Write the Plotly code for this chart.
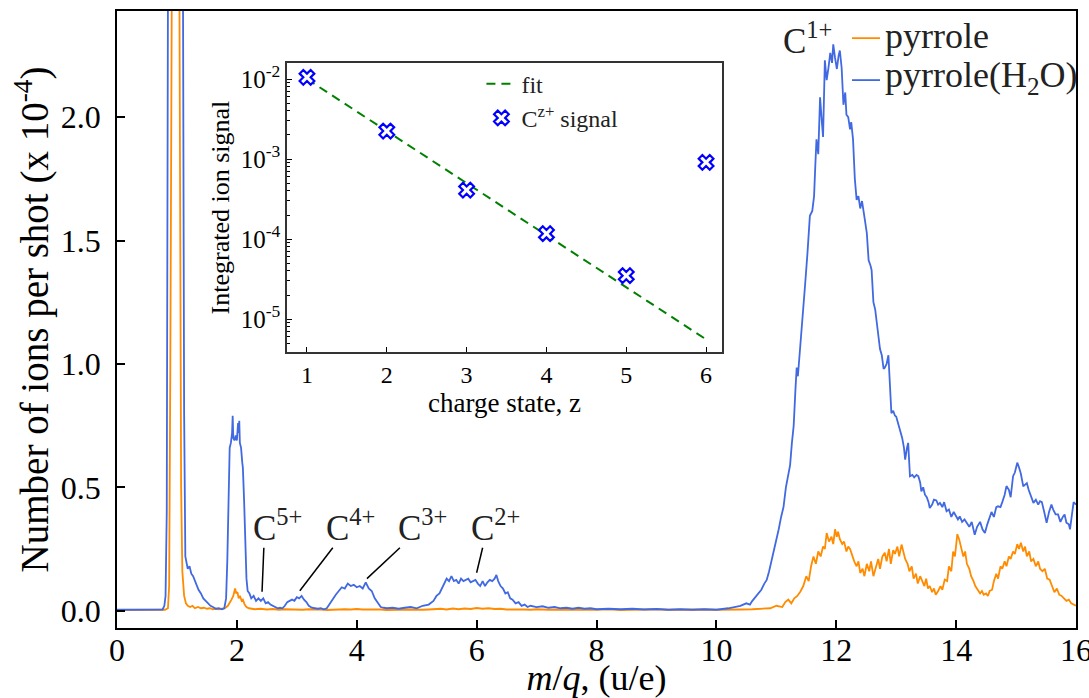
import plotly.graph_objects as go

# ---------------- main spectrum: pyrrole(H2O) (blue) ----------------
blue_mz = [
    0.00, 0.30, 0.60, 0.76, 0.79, 0.81, 0.83, 0.85, 0.90, 1.00,
    1.07, 1.10, 1.12, 1.14, 1.16, 1.18, 1.21, 1.24, 1.27, 1.30,
    1.33, 1.36, 1.40, 1.44, 1.48, 1.52, 1.56, 1.60, 1.65, 1.70,
    1.75, 1.79, 1.82, 1.84, 1.86, 1.88, 1.90, 1.92, 1.93, 1.94,
    1.96, 1.98, 2.00, 2.02, 2.03, 2.04, 2.05, 2.07, 2.09, 2.10,
    2.12, 2.14, 2.16, 2.18, 2.21, 2.24, 2.28, 2.32, 2.36, 2.40,
    2.44, 2.48, 2.52, 2.56, 2.60, 2.64, 2.68, 2.72, 2.76, 2.80,
    2.84, 2.88, 2.92, 2.96, 3.00, 3.04, 3.08, 3.12, 3.16, 3.20,
    3.25, 3.30, 3.35, 3.40, 3.45, 3.50, 3.55, 3.60, 3.65, 3.70,
    3.75, 3.80, 3.85, 3.90, 3.95, 4.00, 4.05, 4.10, 4.15, 4.20,
    4.25, 4.30, 4.35, 4.40, 4.45, 4.50, 4.60, 4.70, 4.80, 4.90,
    5.00, 5.10, 5.20, 5.28, 5.33, 5.38, 5.42, 5.46, 5.50, 5.54,
    5.58, 5.62, 5.66, 5.70, 5.74, 5.78, 5.82, 5.86, 5.90, 5.94,
    5.98, 6.02, 6.06, 6.10, 6.14, 6.18, 6.22, 6.26, 6.30, 6.33,
    6.36, 6.40, 6.44, 6.48, 6.52, 6.56, 6.60, 6.65, 6.70, 6.75,
    6.80, 6.85, 6.90, 7.00, 7.10, 7.20, 7.30, 7.40, 7.50, 7.60,
    7.70, 7.80, 7.90, 8.00, 8.20, 8.40, 8.60, 8.80, 9.00, 9.20,
    9.40, 9.60, 9.80, 10.00, 10.10, 10.20, 10.30, 10.40, 10.50, 10.56,
    10.60, 10.65, 10.70, 10.75, 10.80, 10.84, 10.88, 10.92, 10.96, 11.00,
    11.04, 11.08, 11.12, 11.16, 11.20, 11.23, 11.26, 11.29, 11.32, 11.34,
    11.36, 11.39, 11.42, 11.45, 11.48, 11.52, 11.56, 11.60, 11.63, 11.65,
    11.67, 11.70, 11.73, 11.76, 11.78, 11.81, 11.84, 11.87, 11.90, 11.93,
    11.95, 11.98, 12.01, 12.04, 12.06, 12.09, 12.12, 12.15, 12.17, 12.20,
    12.23, 12.25, 12.28, 12.31, 12.34, 12.37, 12.40, 12.43, 12.45, 12.48,
    12.51, 12.54, 12.57, 12.59, 12.62, 12.65, 12.67, 12.70, 12.73, 12.76,
    12.79, 12.81, 12.84, 12.87, 12.90, 12.92, 12.95, 12.98, 13.00, 13.03,
    13.06, 13.10, 13.13, 13.15, 13.18, 13.20, 13.23, 13.27, 13.30, 13.34,
    13.37, 13.40, 13.42, 13.45, 13.48, 13.51, 13.54, 13.56, 13.60, 13.63,
    13.67, 13.70, 13.73, 13.77, 13.80, 13.84, 13.88, 13.92, 13.96, 14.00,
    14.03, 14.06, 14.10, 14.14, 14.18, 14.22, 14.26, 14.29, 14.31, 14.35,
    14.40, 14.44, 14.48, 14.52, 14.56, 14.59, 14.63, 14.67, 14.70, 14.74,
    14.77, 14.81, 14.84, 14.88, 14.91, 14.95, 14.98, 15.02, 15.05, 15.08,
    15.12, 15.15, 15.18, 15.21, 15.25, 15.29, 15.33, 15.37, 15.40, 15.43,
    15.47, 15.51, 15.55, 15.59, 15.62, 15.66, 15.70, 15.74, 15.78, 15.81,
    15.84, 15.88, 15.90, 15.93, 15.96, 16.00,
]
blue_counts = [
    0.004, 0.004, 0.004, 0.005, 0.02, 0.06, 0.40, 2.50, 6.00, 9.00,
    6.00, 2.60, 0.80, 0.22, 0.19, 0.17, 0.18, 0.15, 0.14, 0.12,
    0.10, 0.085, 0.07, 0.05, 0.04, 0.03, 0.02, 0.015, 0.008, 0.01,
    0.006, 0.01, 0.05, 0.20, 0.45, 0.66, 0.68, 0.72, 0.79, 0.70,
    0.69, 0.71, 0.69, 0.76, 0.72, 0.77, 0.68, 0.66, 0.60, 0.58,
    0.45, 0.25, 0.13, 0.08, 0.07, 0.05, 0.06, 0.04, 0.05, 0.04,
    0.05, 0.03, 0.035, 0.025, 0.02, 0.012, 0.01, 0.012, 0.01, 0.02,
    0.035, 0.04, 0.045, 0.04, 0.055, 0.05, 0.06, 0.045, 0.035, 0.02,
    0.012, 0.01, 0.008, 0.01, 0.006, 0.01, 0.03, 0.05, 0.065, 0.08,
    0.095, 0.09, 0.11, 0.10, 0.105, 0.095, 0.10, 0.09, 0.115, 0.09,
    0.08, 0.05, 0.03, 0.015, 0.012, 0.01, 0.012, 0.008, 0.012, 0.015,
    0.01, 0.02, 0.025, 0.04, 0.06, 0.07, 0.09, 0.11, 0.13, 0.12,
    0.14, 0.12, 0.125, 0.11, 0.13, 0.12, 0.125, 0.13, 0.115, 0.12,
    0.125, 0.11, 0.10, 0.12, 0.10, 0.115, 0.125, 0.12, 0.13, 0.145,
    0.12, 0.10, 0.09, 0.07, 0.075, 0.05, 0.045, 0.03, 0.035, 0.02,
    0.025, 0.015, 0.02, 0.015, 0.018, 0.012, 0.015, 0.01, 0.012, 0.008,
    0.012, 0.008, 0.01, 0.006, 0.008, 0.006, 0.008, 0.005, 0.007, 0.004,
    0.006, 0.004, 0.006, 0.004, 0.006, 0.01, 0.015, 0.02, 0.03, 0.025,
    0.04, 0.055, 0.07, 0.085, 0.11, 0.125, 0.16, 0.20, 0.25, 0.29,
    0.33, 0.38, 0.42, 0.50, 0.55, 0.59, 0.68, 0.75, 0.90, 0.985,
    0.95, 1.05, 1.13, 1.26, 1.32, 1.45, 1.60, 1.62, 1.68, 1.80,
    1.91, 1.85, 2.08, 1.98, 1.92, 2.23, 2.15, 2.20, 2.26, 2.22,
    2.295, 2.24, 2.195, 2.25, 2.27, 2.20, 2.05, 2.10, 2.01, 2.00,
    1.95, 1.98, 1.91, 1.75, 1.665, 1.68, 1.63, 1.66, 1.62, 1.58,
    1.53, 1.42, 1.40, 1.38, 1.25, 1.22, 1.18, 1.12, 1.06, 1.035,
    0.98, 0.985, 1.00, 1.035, 0.90, 0.80, 0.81, 0.79, 0.787, 0.76,
    0.734, 0.70, 0.66, 0.612, 0.66, 0.68, 0.545, 0.55, 0.54, 0.55,
    0.545, 0.52, 0.484, 0.50, 0.47, 0.46, 0.44, 0.416, 0.43, 0.45,
    0.447, 0.43, 0.437, 0.42, 0.44, 0.403, 0.41, 0.38, 0.40, 0.385,
    0.37, 0.382, 0.36, 0.37, 0.357, 0.34, 0.36, 0.328, 0.308, 0.34,
    0.36, 0.33, 0.315, 0.35, 0.38, 0.40, 0.38, 0.42, 0.423, 0.42,
    0.44, 0.47, 0.505, 0.49, 0.46, 0.545, 0.56, 0.60, 0.58, 0.555,
    0.504, 0.51, 0.517, 0.49, 0.46, 0.437, 0.45, 0.43, 0.444, 0.44,
    0.40, 0.356, 0.40, 0.43, 0.41, 0.39, 0.39, 0.36, 0.38, 0.39,
    0.357, 0.35, 0.33, 0.38, 0.44, 0.43,
]

# ---------------- main spectrum: pyrrole (orange) ----------------
orange_mz = [
    0.00, 0.30, 0.60, 0.80, 0.85, 0.87, 0.89, 0.92, 0.97, 1.02,
    1.05, 1.07, 1.09, 1.10, 1.12, 1.15, 1.18, 1.22, 1.26, 1.30,
    1.35, 1.40, 1.45, 1.50, 1.55, 1.60, 1.65, 1.70, 1.75, 1.80,
    1.85, 1.88, 1.91, 1.94, 1.96, 1.97, 1.99, 2.01, 2.03, 2.05,
    2.08, 2.10, 2.13, 2.16, 2.20, 2.30, 2.40, 2.50, 2.60, 2.70,
    2.80, 2.90, 3.00, 3.10, 3.20, 3.30, 3.40, 3.50, 3.60, 3.70,
    3.80, 3.90, 4.00, 4.10, 4.20, 4.30, 4.40, 4.50, 4.60, 4.70,
    4.80, 4.90, 5.00, 5.10, 5.20, 5.30, 5.40, 5.50, 5.60, 5.70,
    5.80, 5.90, 6.00, 6.10, 6.20, 6.30, 6.40, 6.50, 6.60, 6.70,
    6.80, 6.90, 7.00, 7.20, 7.40, 7.60, 7.80, 8.00, 8.20, 8.40,
    8.60, 8.80, 9.00, 9.20, 9.40, 9.60, 9.80, 10.00, 10.20, 10.40,
    10.60, 10.70, 10.80, 10.90, 11.00, 11.10, 11.15, 11.20, 11.25, 11.30,
    11.35, 11.40, 11.45, 11.50, 11.54, 11.58, 11.62, 11.66, 11.70, 11.74,
    11.78, 11.81, 11.84, 11.88, 11.92, 11.95, 11.98, 12.01, 12.03, 12.06,
    12.10, 12.13, 12.17, 12.20, 12.23, 12.27, 12.30, 12.34, 12.37, 12.40,
    12.44, 12.47, 12.51, 12.55, 12.58, 12.62, 12.66, 12.70, 12.73, 12.77,
    12.81, 12.84, 12.88, 12.91, 12.95, 12.98, 13.02, 13.05, 13.09, 13.12,
    13.15, 13.19, 13.22, 13.26, 13.29, 13.33, 13.36, 13.40, 13.43, 13.47,
    13.50, 13.53, 13.56, 13.60, 13.63, 13.66, 13.70, 13.74, 13.77, 13.81,
    13.85, 13.88, 13.92, 13.95, 13.98, 14.02, 14.05, 14.08, 14.12, 14.15,
    14.18, 14.22, 14.25, 14.29, 14.32, 14.36, 14.40, 14.43, 14.46, 14.50,
    14.53, 14.56, 14.60, 14.63, 14.67, 14.70, 14.74, 14.77, 14.81, 14.84,
    14.88, 14.91, 14.95, 14.98, 15.02, 15.05, 15.08, 15.12, 15.15, 15.18,
    15.22, 15.25, 15.29, 15.33, 15.37, 15.40, 15.44, 15.48, 15.52, 15.56,
    15.60, 15.64, 15.68, 15.72, 15.76, 15.80, 15.84, 15.88, 15.92, 15.96,
    16.00,
]
orange_counts = [
    0.003, 0.003, 0.003, 0.004, 0.01, 0.10, 1.00, 3.00, 6.00, 4.00,
    1.50, 0.50, 0.16, 0.12, 0.06, 0.03, 0.02, 0.015, 0.02, 0.01,
    0.015, 0.01, 0.012, 0.008, 0.01, 0.006, 0.008, 0.006, 0.008, 0.01,
    0.02, 0.03, 0.045, 0.06, 0.08, 0.09, 0.07, 0.075, 0.05, 0.06,
    0.04, 0.045, 0.025, 0.015, 0.01, 0.006, 0.008, 0.005, 0.007, 0.004,
    0.006, 0.005, 0.007, 0.004, 0.006, 0.004, 0.005, 0.003, 0.005, 0.004,
    0.006, 0.005, 0.007, 0.005, 0.006, 0.004, 0.005, 0.003, 0.005, 0.004,
    0.005, 0.004, 0.006, 0.004, 0.005, 0.006, 0.008, 0.005, 0.009, 0.006,
    0.009, 0.007, 0.011, 0.008, 0.01, 0.007, 0.008, 0.005, 0.006, 0.004,
    0.005, 0.004, 0.006, 0.004, 0.005, 0.003, 0.005, 0.004, 0.006, 0.003,
    0.005, 0.004, 0.006, 0.004, 0.005, 0.003, 0.005, 0.004, 0.006, 0.005,
    0.006, 0.008, 0.007, 0.01, 0.02, 0.015, 0.035, 0.045, 0.03, 0.05,
    0.06, 0.077, 0.10, 0.14, 0.12, 0.18, 0.22, 0.19, 0.24, 0.22,
    0.26, 0.25, 0.315, 0.28, 0.30, 0.27, 0.33, 0.30, 0.32, 0.29,
    0.27, 0.28, 0.24, 0.26, 0.25, 0.22, 0.20, 0.18, 0.20, 0.153,
    0.17, 0.14, 0.19, 0.16, 0.20, 0.14, 0.18, 0.21, 0.17, 0.22,
    0.235, 0.20, 0.25, 0.19, 0.245, 0.23, 0.26, 0.22, 0.268, 0.24,
    0.21, 0.19, 0.16, 0.18, 0.13, 0.15, 0.11, 0.14, 0.12, 0.10,
    0.13, 0.09, 0.10, 0.075, 0.09, 0.065, 0.08, 0.10, 0.085, 0.126,
    0.12, 0.18, 0.16, 0.24, 0.22, 0.31, 0.29, 0.26, 0.22, 0.24,
    0.19, 0.17, 0.14, 0.12, 0.10, 0.085, 0.07, 0.08, 0.065, 0.07,
    0.06, 0.08, 0.085, 0.12, 0.15, 0.13, 0.18, 0.17, 0.20, 0.18,
    0.22, 0.21, 0.24, 0.23, 0.27, 0.25, 0.275, 0.24, 0.26, 0.22,
    0.24, 0.20, 0.21, 0.18, 0.20, 0.17, 0.16, 0.17, 0.13, 0.126,
    0.10, 0.075, 0.09, 0.065, 0.06, 0.05, 0.04, 0.045, 0.03, 0.025,
    0.02,
]

# ---------------- inset: integrated signal vs charge state ----------------
charge_state = [1, 2, 3, 4, 5, 6]
ion_signal = [1.05e-2, 2.24e-3, 4.1e-4, 1.17e-4, 3.5e-5, 9.1e-4]
fit_signal = [1.0e-2, 2.24e-3, 5.0e-4, 1.12e-4, 2.5e-5, 5.6e-6]

# ---------------- tick labels and annotations ----------------
main_xticks = [0, 2, 4, 6, 8, 10, 12, 14, 16]
main_yticks = [0.0, 0.5, 1.0, 1.5, 2.0]
main_yticklabels = ["0.0", "0.5", "1.0", "1.5", "2.0"]
inset_xticks = [1, 2, 3, 4, 5, 6]
inset_yticks = [1e-5, 1e-4, 1e-3, 1e-2]
inset_yticklabels = ["10<sup>-5</sup>", "10<sup>-4</sup>", "10<sup>-3</sup>", "10<sup>-2</sup>"]

peak_labels = ["C<sup>5+</sup>", "C<sup>4+</sup>", "C<sup>3+</sup>", "C<sup>2+</sup>"]
label_x = [2.67, 3.89, 5.09, 6.31]
label_y = [0.345, 0.345, 0.345, 0.345]
pointer_tail_x = [2.45, 3.60, 4.72, 6.10]
pointer_tail_y = [0.255, 0.255, 0.255, 0.255]
pointer_tip_x = [2.42, 3.05, 4.17, 6.00]
pointer_tip_y = [0.077, 0.081, 0.13, 0.154]

series_names = ["pyrrole", "pyrrole(H<sub>2</sub>O)"]

FONT = "Liberation Serif"
BLUE = "#4169e1"
ORANGE = "#ff8c00"
TXT = "#222"

fig = go.Figure()
fig.add_trace(go.Scatter(x=orange_mz, y=orange_counts, mode="lines",
                         line=dict(color=ORANGE, width=1.8), name=series_names[0],
                         showlegend=False))
fig.add_trace(go.Scatter(x=blue_mz, y=blue_counts, mode="lines",
                         line=dict(color=BLUE, width=1.8),
                         name=series_names[1], showlegend=False))

fig.add_trace(go.Scatter(x=charge_state, y=fit_signal, mode="lines",
                         xaxis="x2", yaxis="y2",
                         line=dict(color="green", width=2, dash="9px,6px"),
                         name="fit", legend="legend2"))
fig.add_trace(go.Scatter(x=charge_state, y=ion_signal, mode="markers",
                         xaxis="x2", yaxis="y2",
                         marker=dict(symbol="x", size=13, color="white",
                                     line=dict(color="blue", width=2.2)),
                         name="C<sup>z+</sup> signal", legend="legend2"))

minor_vals = [m * 10.0 ** e for e in range(-6, -1) for m in range(2, 10)]

axis_common = dict(showline=True, linecolor="black", linewidth=1.5, mirror=True,
                   ticks="inside", tickcolor="black", showgrid=False, zeroline=False)

fig.update_layout(
    width=1089, height=698,
    margin=dict(l=117, r=13, t=11, b=70, autoexpand=False),
    paper_bgcolor="white", plot_bgcolor="white",
    font=dict(family=FONT, color="black"),
    xaxis=dict(range=[0, 16], tickvals=main_xticks, ticklen=8, tickwidth=1.5,
               tickfont=dict(size=32), ticklabeloverflow="allow",
               ticklabelstandoff=-7,
               title=dict(text="<i>m</i>/<i>q</i>, (u/e)", font=dict(size=36), standoff=0),
               **axis_common),
    yaxis=dict(range=[-0.07, 2.43], tickvals=main_yticks, ticktext=main_yticklabels,
               ticklen=8, tickwidth=1.5, tickfont=dict(size=32),
               ticklabelstandoff=8,
               title=dict(text="Number of ions per shot (x 10<sup>-4</sup>)",
                          font=dict(size=39), standoff=0),
               **axis_common),
    xaxis2=dict(domain=[0.1773, 0.6309], anchor="y2", range=[0.75, 6.2],
                tickvals=inset_xticks, ticklen=5, tickwidth=1.2,
                tickfont=dict(size=24),
                title=dict(text="charge state, z", font=dict(size=27), standoff=0),
                showline=True, linecolor="#333", linewidth=1.5, mirror=True,
                ticks="inside", tickcolor="black", showgrid=False, zeroline=False),
    yaxis2=dict(domain=[0.4473, 0.9157], anchor="x2", type="log",
                range=[-5.41, -1.8], tickvals=inset_yticks, ticktext=inset_yticklabels,
                ticklen=5, tickwidth=1.2, tickfont=dict(size=25),
                minor=dict(tickvals=minor_vals, ticks="inside", ticklen=3,
                           tickcolor="black", tickwidth=1),
                title=dict(text="Integrated ion signal", font=dict(size=26), standoff=4),
                showline=True, linecolor="#333", linewidth=1.5, mirror=True,
                ticks="inside", tickcolor="black", showgrid=False, zeroline=False),
    legend2=dict(x=0.38, y=0.918, xanchor="left", yanchor="top",
                 bgcolor="rgba(0,0,0,0)", font=dict(size=24, color=TXT),
                 itemwidth=30, tracegroupgap=0),
    showlegend=True,
)

# main legend (short line samples + labels, top-right inside the axes)
legend_rows_y = [0.956, 0.888]
legend_colors = [ORANGE, BLUE]
for name, color, ry in zip(series_names, legend_colors, legend_rows_y):
    fig.add_shape(type="line", xref="paper", yref="paper",
                  x0=0.7664, x1=0.7956, y0=ry, y1=ry,
                  line=dict(color=color, width=1.8))
    fig.add_annotation(xref="paper", yref="paper", x=0.7985, y=ry + 0.004,
                       xanchor="left", yanchor="middle", text=name,
                       showarrow=False, font=dict(size=36, color=TXT))

# C1+ label
fig.add_annotation(x=11.52, y=2.32, text="C<sup>1+</sup>", showarrow=False,
                   font=dict(size=35, color=TXT), xref="x", yref="y")

for txt, lx, ly, tx0, ty0, tx1, ty1 in zip(peak_labels, label_x, label_y,
                                           pointer_tail_x, pointer_tail_y,
                                           pointer_tip_x, pointer_tip_y):
    fig.add_annotation(x=lx, y=ly, text=txt, showarrow=False,
                       font=dict(size=35, color=TXT), xref="x", yref="y")
    fig.add_shape(type="line", x0=tx0, y0=ty0, x1=tx1, y1=ty1,
                  xref="x", yref="y", line=dict(color="black", width=1.5))

fig.write_html("out.html")
